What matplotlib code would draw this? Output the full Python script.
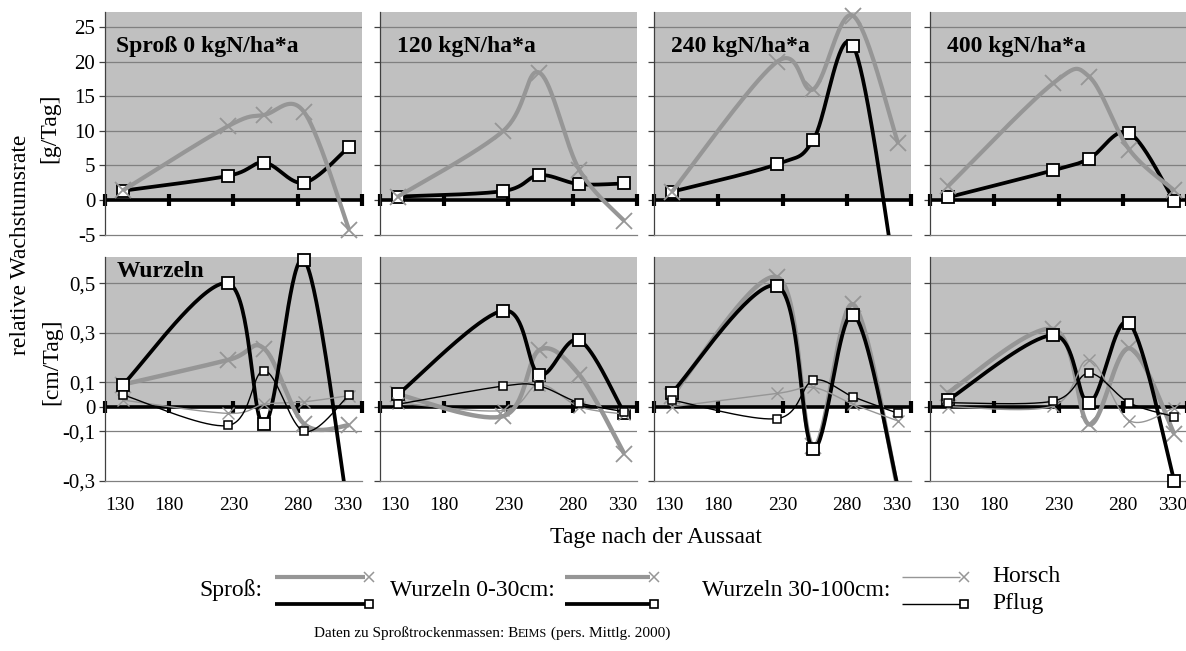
import numpy as np
import matplotlib
matplotlib.use("Agg")
import matplotlib.pyplot as plt

plt.rcParams['font.family'] = ['Liberation Serif', 'DejaVu Serif']

# ---------------- data ----------------
days = [144, 226, 254, 285, 320]
x_ticks = [130, 180, 230, 280, 330]
x_ticklabels = ["130", "180", "230", "280", "330"]
panel_titles = ["Sproß 0 kgN/ha*a", "120 kgN/ha*a", "240 kgN/ha*a", "400 kgN/ha*a"]

top_yticks = [-5, 0, 5, 10, 15, 20, 25]
top_yticklabels = ["-5", "0", "5", "10", "15", "20", "25"]
bot_yticks = [-0.3, -0.1, 0, 0.1, 0.3, 0.5]
bot_yticklabels = ["-0,3", "-0,1", "0", "0,1", "0,3", "0,5"]

spross_horsch = [[1.4, 10.7, 12.3, 12.7, -4.3],
                 [0.5, 10.0, 18.4, 4.4, -3.0],
                 [1.2, 20.0, 16.0, 26.6, 8.2],
                 [2.0, 16.9, 17.8, 7.3, 1.4]]
spross_pflug = [[1.35, 3.5, 5.4, 2.5, 7.7],
                [0.5, 1.3, 3.6, 2.3, 2.4],
                [1.2, 5.2, 8.7, 22.3, -14.0],
                [0.4, 4.3, 6.0, 9.7, -0.1]]
w030_horsch = [[0.09, 0.19, 0.235, -0.07, -0.075],
               [0.05, -0.038, 0.23, 0.13, -0.19],
               [0.045, 0.525, -0.16, 0.415, -0.34],
               [0.057, 0.315, -0.072, 0.237, -0.109]]
w030_pflug = [[0.09, 0.5, -0.072, 0.595, -0.45],
              [0.05, 0.39, 0.13, 0.27, -0.025],
              [0.057, 0.49, -0.17, 0.374, -0.33],
              [0.027, 0.29, 0.016, 0.34, -0.30]]
w30100_horsch = [[0.027, -0.027, 0.01, 0.02, 0.045],
                 [0.016, -0.015, 0.09, 0.0, -0.03],
                 [0.0, 0.054, 0.078, 0.01, -0.058],
                 [0.0, 0.003, 0.19, -0.056, -0.004]]
w30100_pflug = [[0.048, -0.076, 0.146, -0.1, 0.048],
                [0.01, 0.084, 0.084, 0.016, -0.02],
                [0.027, -0.048, 0.107, 0.04, -0.027],
                [0.016, 0.023, 0.136, 0.016, -0.04]]

# ---------------- style ----------------
GRAY_BG = '#c0c0c0'
GRID = '#808080'
GRAY_LINE = '#969696'
W, H = 1186, 651
FS = 17


def excel_smooth(x, y, n=40):
    P = np.column_stack([x, y]).astype(float)
    Pext = np.vstack([P[0], P, P[-1]])
    t = np.linspace(0, 1, n)[1:, None]
    out = [P[:1]]
    for i in range(len(P) - 1):
        p0, p1, p2, p3 = Pext[i], Pext[i + 1], Pext[i + 2], Pext[i + 3]
        c1 = p1 + (p2 - p0) / 6.0
        c2 = p2 - (p3 - p1) / 6.0
        seg = ((1 - t) ** 3) * p1 + 3 * ((1 - t) ** 2) * t * c1 + 3 * (1 - t) * t ** 2 * c2 + t ** 3 * p2
        out.append(seg)
    S = np.vstack(out)
    return S[:, 0], S[:, 1]


def series(ax, y, color, lw, marker, ms, mew, mfc, z):
    sx, sy = excel_smooth(days, y)
    ax.plot(sx, sy, color=color, lw=lw, zorder=z, solid_capstyle='butt')
    lo, hi = ax.get_ylim()
    tol = (hi - lo) * 0.005
    vis = [(d, v) for d, v in zip(days, y) if lo - tol <= v <= hi + tol]
    if vis:
        vx, vy = zip(*vis)
        ax.plot(vx, vy, ls='none', marker=marker, ms=ms, mew=mew, mfc=mfc,
                mec=('black' if marker == 's' else GRAY_LINE), zorder=z + 0.5, clip_on=False)


fig = plt.figure(figsize=(W / 100, H / 100), dpi=100)

col_left = [105, 380, 654, 930]
pw = 257
rows = [(11.7, 234.7, (-5, 27.2)), (257.3, 480.7, (-0.3, 0.606))]


def px_axes(l, t, w, h):
    return fig.add_axes([l / W, 1 - (t + h) / H, w / W, h / H])


for c in range(4):
    for r, (top, bot, ylim) in enumerate(rows):
        ax = px_axes(col_left[c], top, pw, bot - top)
        ax.set_xlim(130, 330)
        ax.set_ylim(*ylim)
        ax.set_facecolor('white')
        ax.axhspan(0, ylim[1], color=GRAY_BG, zorder=0, lw=0)
        grid = [5, 10, 15, 20, 25] if r == 0 else [-0.1, 0.1, 0.3, 0.5]
        for g in grid:
            ax.axhline(g, color=GRID, lw=0.9, zorder=1)
        ax.axhline(0, color='black', lw=2.6, zorder=2)
        ax.plot(x_ticks, [0] * 5, ls='none', marker='|', ms=9, mew=3,
                color='black', zorder=2, clip_on=False)
        for s in ['top', 'right']:
            ax.spines[s].set_visible(False)
        ax.spines['left'].set_color('#404040')
        ax.spines['left'].set_linewidth(0.9)
        ax.spines['bottom'].set_color(GRID)
        ax.spines['bottom'].set_linewidth(0.9)
        ax.tick_params(axis='y', direction='out', length=4, width=0.9,
                       color='#404040', labelsize=15, pad=3)
        ax.tick_params(axis='x', length=0, labelsize=14, pad=12)
        ax.set_xticks(x_ticks)
        if r == 0:
            ax.set_yticks(top_yticks)
            ax.set_yticklabels(top_yticklabels if c == 0 else [])
            ax.set_xticklabels([])
            series(ax, spross_pflug[c], 'black', 2.7, 's', 8.5, 1.3, 'white', 3)
            series(ax, spross_horsch[c], GRAY_LINE, 3.0, 'x', 12, 1.3, 'none', 4)
            tx = (11 if c == 0 else 17) / pw
            ty = 1 - 35 / (bot - top)
            ax.text(tx, ty, panel_titles[c], transform=ax.transAxes, fontsize=FS,
                    fontweight='bold', va='center', ha='left', zorder=6)
        else:
            ax.set_yticks(bot_yticks)
            ax.set_yticklabels(bot_yticklabels if c == 0 else [])
            ax.set_xticklabels(x_ticklabels)
            labs = ax.get_xticklabels()
            labs[0].set_ha('left')
            labs[-1].set_ha('right')
            series(ax, w030_horsch[c], GRAY_LINE, 3.2, 'x', 12, 1.3, 'none', 3)
            series(ax, w030_pflug[c], 'black', 2.7, 's', 8.5, 1.3, 'white', 4)
            series(ax, w30100_horsch[c], GRAY_LINE, 1.0, 'x', 8, 1.0, 'none', 5)
            series(ax, w30100_pflug[c], 'black', 1.0, 's', 6, 1.1, 'white', 6)
            if c == 0:
                ax.text(12 / pw, 1 - 14.7 / (bot - top), "Wurzeln", transform=ax.transAxes,
                        fontsize=FS, fontweight='bold', va='center', ha='left', zorder=7)

# ---------------- overlay: labels & legend ----------------
ov = fig.add_axes([0, 0, 1, 1], zorder=-1)
ov.set_xlim(0, W)
ov.set_ylim(H, 0)
ov.axis('off')

ov.text(21, 245, "relative Wachstumsrate", rotation=90, fontsize=FS, ha='center', va='center')
ov.text(50, 128, "[g/Tag]", rotation=90, fontsize=FS, ha='center', va='center')
ov.text(52, 362, "[cm/Tag]", rotation=90, fontsize=FS, ha='center', va='center')
ov.text(656, 537, "Tage nach der Aussaat", fontsize=FS, ha='center', va='center')

ly1, ly2, lyt = 577, 604, 590
groups = [("Sproß:", 262, 275, 365, 3.0, 2.7, 6),
          ("Wurzeln 0-30cm:", 555, 565, 650, 3.0, 2.7, 6),
          ("Wurzeln 30-100cm:", 890, 902, 960, 1.0, 1.0, 6)]
for label, tx, x0, x1, lwg, lwb, ms in groups:
    ov.text(tx, lyt, label, fontsize=FS, ha='right', va='center')
    ov.plot([x0, x1], [ly1, ly1], color=GRAY_LINE, lw=lwg, solid_capstyle='butt')
    ov.plot([x1 + 4], [ly1], marker='x', ms=ms + 1, mew=1.1, color=GRAY_LINE)
    ov.plot([x0, x1], [ly2, ly2], color='black', lw=lwb, solid_capstyle='butt')
    ov.plot([x1 + 4], [ly2], marker='s', ms=ms, mew=1.2, mec='black', mfc='white')
ov.text(992, ly1, "Horsch", fontsize=FS, ha='left', va='center')
ov.text(992, ly2, "Pflug", fontsize=FS, ha='left', va='center')

# source line with small caps
fig.canvas.draw()
ren = fig.canvas.get_renderer()
parts = [("Daten zu Sproßtrockenmassen: B", 11), ("EIMS", 8.8), (" (pers. Mittlg. 2000)", 11)]
tmp = []
total = 0
for s, fs in parts:
    t = ov.text(0, 637, s, fontsize=fs, ha='left', va='baseline')
    w = t.get_window_extent(renderer=ren).width
    tmp.append((t, w))
    total += w
x = 492 - total / 2
for t, w in tmp:
    t.set_x(x)
    x += w

fig.savefig("out.png", dpi=100)
